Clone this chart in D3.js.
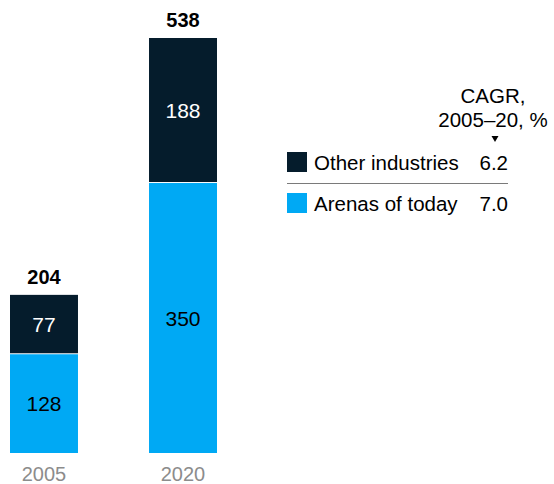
<!DOCTYPE html>
<html>
<head>
<meta charset="utf-8">
<script src="https://cdn.jsdelivr.net/npm/d3@7"></script>
<style>
  body { margin: 0; background: #fff; }
  svg { display: block; font-family: "Liberation Sans", Arial, sans-serif; }
</style>
</head>
<body>
<script>
const years = ['2005', '2020'];
const arenas = [128, 350];
const other = [77, 188];
const totals = [204, 538];
const seriesNames = ['Other industries', 'Arenas of today'];
const cagr = ['6.2', '7.0'];

const width = 554, height = 484;
const navy = '#051c2c', cyan = '#00a9f4';

const svg = d3.select('body').append('svg')
    .attr('width', width).attr('height', height);

// Set the X Axis
const x = d3.scaleBand()
    .domain(years)
    .range([10, 217])
    .paddingInner(0.511)
    .paddingOuter(0);

// Set the Y Axis
const y = d3.scaleLinear()
    .domain([0, d3.max(totals)])
    .range([453, 38]);

const rows = years.map((yr, i) => ({year: yr, arenas: arenas[i], other: other[i], total: totals[i]}));
const stack = d3.stack().keys(['arenas', 'other'])(rows);
const fills = {arenas: cyan, other: navy};
const textFill = {arenas: '#000', other: '#fff'};

const layers = svg.selectAll('g.layer')
    .data(stack)
    .enter()
    .append('g')
    .attr('class', 'layer');

layers.selectAll('rect')
    .data(s => s.map(d => ({key: s.key, d})))
    .enter()
    .append('rect')
    .attr('x', e => x(e.d.data.year))
    .attr('width', x.bandwidth())
    .attr('y', e => y(e.d[1]))
    .attr('height', e => y(e.d[0]) - y(e.d[1]) - (e.key === 'other' ? 1 : 0))
    .attr('fill', e => fills[e.key]);

layers.selectAll('text')
    .data(s => s.map(d => ({key: s.key, d})))
    .enter()
    .append('text')
    .attr('x', e => x(e.d.data.year) + x.bandwidth() / 2)
    .attr('y', e => (y(e.d[0]) + y(e.d[1])) / 2 + 7.5)
    .attr('text-anchor', 'middle')
    .style('font-size', '21px')
    .attr('fill', e => textFill[e.key])
    .text(e => e.d.data[e.key]);

// totals
svg.selectAll('text.total')
    .data(rows)
    .enter()
    .append('text')
    .attr('class', 'total')
    .attr('x', d => x(d.year) + x.bandwidth() / 2)
    .attr('y', d => y(d.arenas + d.other) - 11)
    .attr('text-anchor', 'middle')
    .style('font-size', '20px')
    .style('font-weight', 'bold')
    .attr('fill', '#000')
    .text(d => d.total);

// year labels
svg.selectAll('text.year')
    .data(years)
    .enter()
    .append('text')
    .attr('class', 'year')
    .attr('x', d => x(d) + x.bandwidth() / 2)
    .attr('y', 481)
    .attr('text-anchor', 'middle')
    .style('font-size', '20px')
    .attr('fill', '#8c8c8c')
    .text(d => d);

// legend
const legendY = d3.scalePoint().domain(seriesNames).range([152, 193]);
const legend = svg.append('g');

legend.append('text')
    .attr('x', 493).attr('y', 103)
    .attr('text-anchor', 'middle')
    .style('font-size', '20.5px')
    .text('CAGR,');
legend.append('text')
    .attr('x', 493).attr('y', 127)
    .attr('text-anchor', 'middle')
    .style('font-size', '20.5px')
    .text('2005–20, %');
legend.append('path')
    .attr('d', 'M491.5,136 L498.5,136 L495,142 Z')
    .attr('fill', '#000');

const items = legend.selectAll('g.item')
    .data(seriesNames)
    .enter()
    .append('g')
    .attr('class', 'item');

items.append('rect')
    .attr('x', 287)
    .attr('y', d => legendY(d))
    .attr('width', 20).attr('height', 20)
    .attr('fill', (d, i) => i === 0 ? navy : cyan);

items.append('text')
    .attr('x', 314)
    .attr('y', d => legendY(d) + 18)
    .style('font-size', '20.5px')
    .attr('fill', '#000')
    .text(d => d);

items.append('text')
    .attr('x', 508)
    .attr('y', d => legendY(d) + 18)
    .attr('text-anchor', 'end')
    .style('font-size', '20.5px')
    .attr('fill', '#000')
    .text((d, i) => cagr[i]);

legend.append('line')
    .attr('x1', 287).attr('x2', 508)
    .attr('y1', 183.5).attr('y2', 183.5)
    .attr('stroke', '#7a7a7a')
    .attr('stroke-width', 1);
</script>
</body>
</html>
